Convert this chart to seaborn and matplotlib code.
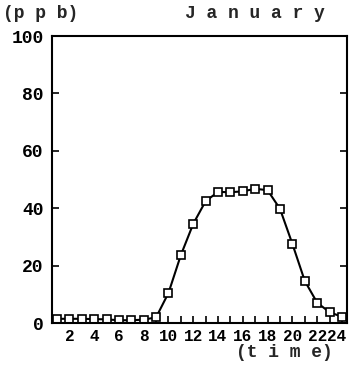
import pandas as pd
import matplotlib
matplotlib.use("Agg")
import matplotlib.pyplot as plt
import matplotlib.transforms as mtransforms
import seaborn as sns

sns.set_style("ticks")
plt.rcParams["font.family"] = ["Liberation Mono", "DejaVu Sans Mono"]

hours = list(range(1, 25))
ppb = [1.5, 1.5, 1.5, 1.4, 1.3, 1.0, 1.0, 1.2, 2.0, 10.5, 23.7, 34.6,
       42.5, 45.7, 45.6, 45.9, 46.8, 46.3, 39.8, 27.6, 14.7, 7.1, 3.8, 2.2]
xtick_labels = [str(h) if h % 2 == 0 else "" for h in hours]
yticks = [0, 20, 40, 60, 80, 100]

df = pd.DataFrame({"time": hours, "ppb": ppb})

fig = plt.figure(figsize=(3.49, 3.68), dpi=100)
ax = fig.add_axes([0.149, 0.122, 0.845, 0.78])

sns.lineplot(data=df, x="time", y="ppb", ax=ax, color="black", linewidth=1.5,
             marker="s", markersize=6, markerfacecolor="white",
             markeredgecolor="black", markeredgewidth=1.2)

ax.set_xlim(0.6, 24.4)
ax.set_ylim(0, 100)
ax.set_xticks(hours)
ax.set_xticklabels(xtick_labels, fontsize=11.5, fontweight="bold")
ax.set_yticks(yticks)
ax.set_yticklabels([str(v) for v in yticks], fontsize=13, fontweight="bold")
ax.tick_params(axis="both", direction="in", length=5, width=1.2, colors="black", pad=2)
ax.tick_params(axis="y", right=True, pad=6)
ax.tick_params(axis="x", pad=4)
for s in ax.spines.values():
    s.set_linewidth(1.5)
    s.set_color("black")
ax.set_xlabel("")
ax.set_ylabel("")

# last label sits at the figure edge, nudge it in a little
last = ax.get_xticklabels()[-1]
last.set_transform(last.get_transform() + mtransforms.ScaledTranslation(-0.05, 0, fig.dpi_scale_trans))

fig.text(0.115, 0.962, "(p p b)", ha="center", va="center", fontsize=13, fontweight="bold")
fig.text(0.73, 0.962, "J a n u a r y", ha="center", va="center", fontsize=13, fontweight="bold")
fig.text(0.815, 0.043, "(t i m e)", ha="center", va="center", fontsize=13, fontweight="bold")

fig.savefig("out.png", dpi=100)
